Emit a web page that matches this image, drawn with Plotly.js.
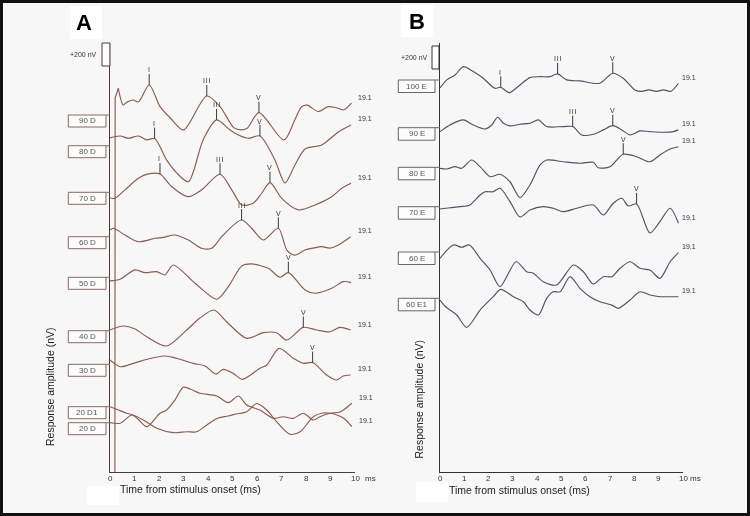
<!DOCTYPE html>
<html>
<head>
<meta charset="utf-8">
<script src="https://cdn.plot.ly/plotly-3.0.1.min.js"></script>
<style>
  html, body { margin: 0; padding: 0; background: #f7f7f8; }
  #chart { width: 750px; height: 516px; }
  /* keep the tiny roman numerals neutral grey */
  #chart .annotation, #chart .annotation text { filter: grayscale(1); }
</style>
</head>
<body>
<div id="chart"></div>
<script>
// ABR waveforms: time (ms) and amplitude (nV, relative to each trace's own baseline)

// ---------- Panel A ----------
const t_90D = [0.34,0.54,0.7,0.95,1.16,1.6,2.05,2.5,3.0,3.95,4.5,5.05,5.35,5.6,6.08,7.1,7.55,7.82,8.05,8.5,8.9,9.2,9.55,9.85];
const v_90D = [232,87,113,130,113,261,70,-35,-130,165,70,-110,-130,-115,20,-218,-40,72,85,30,72,65,45,102];
// stimulus artifact rising from the floor of the panel into the 90 D sweep
const t_art = [0.2,0.21,0.34];
const v_art = [-3106,150,232];

const t_80D = [0,0.41,0.75,1.16,1.5,1.82,2.31,2.72,3.2,3.8,4.35,4.9,5.24,5.64,6.12,6.73,7.14,7.55,7.96,8.64,9.32,9.84];
const v_80D = [0,17,-3,17,-17,-5,-191,-304,-380,-17,157,70,26,-3,17,-191,-391,-235,-96,-61,52,113];

const t_70D = [0,0.2,0.61,1.16,1.56,2.04,2.52,3.2,3.74,4.49,4.97,5.38,5.85,6.19,6.53,7.01,7.69,8.37,9.05,9.46,9.84];
const v_70D = [0,-3,70,171,209,209,98,11,70,206,70,-61,-46,41,133,-3,-104,-61,11,84,128];

const t_60D = [0,0.13,0.61,1.16,1.84,2.18,2.65,3.2,3.74,4.15,4.56,5.37,5.78,6.26,6.87,7.22,7.55,7.96,8.29,8.64,8.98,9.32,9.82];
const v_60D = [0,15,-43,-102,-72,-64,-43,-87,-159,-159,-58,87,15,-87,15,-174,-218,-174,-157,-145,-157,-130,-58];

const t_50D = [0,0.41,1.02,1.43,1.9,2.24,2.58,3.47,4.36,4.83,5.38,5.78,6.46,6.94,7.28,7.96,8.37,9.05,9.52,9.84];
const v_50D = [0,15,96,72,81,52,139,-20,-159,-50,130,148,110,32,72,-78,-107,-64,-6,-15];

const t_40D = [0,0.54,1.02,1.5,2.31,3.13,3.67,4.24,4.76,5.58,6.26,6.8,7.21,7.89,8.44,8.98,9.39,9.82];
const v_40D = [0,35,9,-58,-139,0,104,174,72,-72,-23,-23,-87,23,0,-15,23,0];

const t_30D = [0,0.41,0.95,1.63,2.18,2.58,3.4,3.88,4.33,4.62,5.03,5.4,6.12,6.4,6.9,7.48,7.89,8.27,8.84,9.25,9.52,9.82];
const v_30D = [0,-58,-29,13,35,23,-29,-52,-122,-81,-116,-168,-72,-43,102,15,-29,-22,-130,-174,-139,-130];

const t_20D1 = [0,0.34,0.68,0.89,1.36,1.91,2.58,3.13,3.54,3.95,4.41,4.82,5.14,5.58,5.99,6.4,6.8,7.35,7.76,8.3,8.69,8.98,9.52,9.87];
const v_20D1 = [0,-29,-57,-68,-116,-188,-226,-218,-218,-159,-98,-81,-64,-43,28,-29,-130,-240,-218,-87,-55,-57,-98,-174];

const t_20D = [0,0.41,0.89,1.14,1.5,2.04,2.31,2.65,2.99,3.27,3.67,4.36,4.83,5.24,5.58,6.12,6.67,7.07,7.48,7.89,8.3,8.57,8.98,9.39,9.87];
const v_20D = [0,-5,67,32,-35,82,110,197,308,293,256,232,174,232,154,110,38,52,38,82,23,52,82,93,169];

const namesA = ['90 D','80 D','70 D','60 D','50 D','40 D','30 D','20 D1','20 D'];
const timesA = [t_90D,t_80D,t_70D,t_60D,t_50D,t_40D,t_30D,t_20D1,t_20D];
const ampsA  = [v_90D,v_80D,v_70D,v_60D,v_50D,v_40D,v_30D,v_20D1,v_20D];
const peaksA = [
  [['I',1.6],['III',3.95],['V',6.08]],
  [['I',1.82],['III',4.35],['V',6.12]],
  [['I',2.04],['III',4.49],['V',6.53]],
  [['III',5.37],['V',6.87]],
  [['V',7.28]],
  [['V',7.89]],
  [['V',8.27]],
  [],
  []
];
const sweepsA = ['19.1','19.1','19.1','19.1','19.1','19.1','19.1','19.1','19.1'];

// ---------- Panel B ----------
const t_100E = [0,0.28,0.62,0.96,1.37,1.78,2.26,2.5,2.85,3.29,3.7,4.12,4.53,4.84,5.21,5.76,6.58,7.11,7.54,8.02,8.3,8.6,8.9,9.2,9.5,9.81];
const v_100E = [0,70,113,185,142,84,-3,6,-41,26,90,98,98,122,70,61,41,128,84,-17,-30,-17,-30,-17,-30,41];

const t_90E = [0,0.41,0.96,1.37,1.85,2.13,2.37,2.61,2.88,3.29,3.7,4.05,4.39,5.07,5.46,5.83,6.31,6.72,7.11,7.48,7.82,8.23,8.64,9.19,9.6,9.81];
const v_90E = [0,58,102,58,23,58,125,73,50,64,73,102,44,44,44,-29,-23,15,52,15,-29,6,0,-5,0,15];

const t_80E = [0,0.28,0.62,0.89,1.3,1.65,2.06,2.47,2.88,3.29,3.7,4.12,4.39,5.07,5.76,6.31,6.51,7.0,7.54,8.09,8.64,9.05,9.47,9.81];
const v_80E = [0,-6,14,0,72,14,-73,-52,-117,-254,-145,29,72,57,44,52,5,14,122,101,57,116,168,188];

const t_70E = [0,0.41,0.82,1.23,1.65,1.85,2.19,2.47,2.88,3.29,3.7,4.25,4.66,5.07,5.63,6.31,6.72,7.13,7.48,7.75,8.09,8.64,9.05,9.47,9.81];
const v_70E = [0,11,20,35,122,150,150,180,64,-70,-9,20,6,-23,6,35,-52,50,93,26,44,-209,-110,6,-124];

const t_60E = [0,0.55,0.89,1.21,1.65,2.06,2.47,3.13,3.57,3.84,4.25,4.8,5.49,5.9,6.31,6.72,7.07,7.41,7.82,8.23,8.64,9.05,9.47,9.81];
const v_60E = [0,116,96,116,0,-102,-247,-30,-117,-130,-204,-232,-58,-117,-224,-160,-160,-87,-30,-87,-102,-174,-30,49];

const t_60E1 = [0,0.2,0.41,0.69,1.1,1.65,2.19,2.5,3.02,3.43,3.7,4.05,4.39,4.66,4.94,5.35,5.76,6.17,6.58,7.07,7.34,7.82,8.23,8.64,9.05,9.47,9.81];
const v_60E1 = [0,-52,-87,-130,-238,-87,29,93,29,-15,-87,-130,15,72,72,203,102,29,-15,-44,-72,0,72,44,29,29,29];

const namesB = ['100 E','90 E','80 E','70 E','60 E','60 E1'];
const timesB = [t_100E,t_90E,t_80E,t_70E,t_60E,t_60E1];
const ampsB  = [v_100E,v_90E,v_80E,v_70E,v_60E,v_60E1];
const peaksB = [
  [['I',2.5],['III',4.84],['V',7.11]],
  [['III',5.46],['V',7.11]],
  [['V',7.54]],
  [['V',8.09]],
  [],
  []
];
const sweepsB = ['19.1','19.1','19.1','19.1','19.1','19.1'];

const tickMs = [0,1,2,3,4,5,6,7,8,9,10];
const CAL_NV = 200;

// ---------- Layout geometry (pixels of the 750 x 516 page) ----------
const W = 750, H = 516;
const Y_SPAN_NV = 3732;                 // amplitude span shown on each panel
const plotTop = 43, plotBottom = 472;
const baseA = [3106, 2906, 2384, 2105, 1662, 1235, 974, 568, 429];   // stacking offsets (nV)
const baseB = [3341, 2961, 2642, 2288, 1859, 1496];
const boxTopA = [115, 145.7, 192.3, 236.7, 277.3, 330.7, 364.3, 406.7, 422.7];
const boxTopB = [80, 127.7, 167.3, 206.7, 252, 298.3];

const px = x => x / W;
const py = y => 1 - y / H;
const yDom = [py(plotBottom), py(plotTop)];
const nvToPaper = v => yDom[0] + (v / Y_SPAN_NV) * (yDom[1] - yDom[0]);

const colA = '#8d5b4a', colB = '#4d5563';
const FONT = 'Liberation Sans, Arial, sans-serif';

const traces = [];
const annotations = [];
const shapes = [];

function addPanel(times, amps, bases, peaks, sweeps, xa, ya, color, endShift) {
  times.forEach((t, i) => {
    const y = amps[i].map(a => a + bases[i]);
    traces.push({
      x: t, y: y, xaxis: xa, yaxis: ya, mode: 'lines', hoverinfo: 'skip',
      line: { color: color, width: 1.15, shape: 'spline', smoothing: 0.8 }
    });
    // wave markers I / III / V (spaced so the thin strokes stay apart)
    peaks[i].forEach(([lab, ms]) => {
      const k = t.indexOf(ms);
      annotations.push({
        xref: xa, yref: ya, x: ms, y: y[k],
        text: '<span style="letter-spacing:0.8px">' + lab + '</span>',
        showarrow: true, arrowhead: 0, arrowwidth: 1, arrowcolor: '#3a3a3a',
        ax: 0, ay: -15, standoff: 0, borderpad: 0,
        font: { family: FONT, size: 7, color: '#333' }
      });
    });
    // sweep count at the end of each trace
    const n = t.length - 1;
    annotations.push({
      xref: xa, yref: ya, x: t[n], y: y[n], text: sweeps[i], showarrow: false,
      xanchor: 'left', yanchor: 'middle', xshift: endShift, yshift: 6,
      font: { family: FONT, size: 7, color: '#333' }
    });
  });
  // time tick labels along the bottom axis
  tickMs.forEach(v => {
    annotations.push({
      xref: xa, yref: 'paper', x: v, y: py(478.5), text: String(v), showarrow: false,
      xanchor: 'center', yanchor: 'middle',
      font: { family: FONT, size: 8, color: '#333' }
    });
  });
}

addPanel(timesA, ampsA, baseA, peaksA, sweepsA, 'x', 'y', colA, 5);
addPanel(timesB, ampsB, baseB, peaksB, sweepsB, 'x2', 'y2', colB, 2);

// stimulus artifact of the loudest sweep
traces.push({
  x: t_art, y: v_art.map(a => a + baseA[0]), xaxis: 'x', yaxis: 'y',
  mode: 'lines', hoverinfo: 'skip', line: { color: colA, width: 1.15 }
});

// label boxes
function addBoxes(names, tops, x0, x1, axisX, h, borderCol) {
  names.forEach((nm, i) => {
    shapes.push({ type: 'rect', xref: 'paper', yref: 'paper',
      x0: px(x0), x1: px(x1), y0: py(tops[i] + h), y1: py(tops[i]),
      line: { color: borderCol, width: 1 }, fillcolor: 'rgba(255,255,255,0.6)' });
    shapes.push({ type: 'line', xref: 'paper', yref: 'paper',
      x0: px(x1), x1: px(axisX), y0: py(tops[i]), y1: py(tops[i]),
      line: { color: borderCol, width: 1 } });
    annotations.push({ xref: 'paper', yref: 'paper', x: px((x0 + x1) / 2), y: py(tops[i] + h / 2),
      text: nm, showarrow: false, xanchor: 'center', yanchor: 'middle',
      font: { family: FONT, size: 8, color: '#555' } });
  });
}
addBoxes(namesA, boxTopA, 68.3, 106, 110, 12, '#8a6a60');
addBoxes(namesB, boxTopB, 398.3, 435, 440, 12.5, '#666');

// +200 nV calibration bars
function addCal(xLeft, xRight, cx, topNv, borderCol) {
  shapes.push({ type: 'rect', xref: 'paper', yref: 'paper',
    x0: px(xLeft), x1: px(xRight), y0: nvToPaper(topNv - CAL_NV), y1: nvToPaper(topNv),
    line: { color: borderCol, width: 1 }, fillcolor: 'rgba(255,255,255,0.8)' });
  annotations.push({ xref: 'paper', yref: 'paper', x: px(cx), y: nvToPaper(topNv - CAL_NV / 2),
    text: '+' + CAL_NV + ' nV', showarrow: false, xanchor: 'center', yanchor: 'middle',
    font: { family: FONT, size: 7, color: '#333' } });
}
addCal(102, 110, 83, Y_SPAN_NV, '#4a3a35');
addCal(432, 439, 414, Y_SPAN_NV - 26, '#333');

// white patches behind panel letters and under the axes
[[70, 6, 102, 39], [401, 5, 433, 37], [87, 486, 119, 505], [416, 482, 448, 502]].forEach(r => {
  shapes.push({ type: 'rect', xref: 'paper', yref: 'paper', layer: 'below',
    x0: px(r[0]), x1: px(r[2]), y0: py(r[3]), y1: py(r[1]),
    line: { width: 0 }, fillcolor: '#ffffff' });
});

// outer frame
shapes.push({ type: 'rect', xref: 'paper', yref: 'paper',
  x0: px(1.5), x1: px(W - 1.5), y0: py(H - 1.5), y1: py(1.5),
  line: { color: '#111', width: 3 } });

function txt(x, y, s, size, opts) {
  annotations.push(Object.assign({ xref: 'paper', yref: 'paper', x: px(x), y: py(y), text: s,
    showarrow: false, xanchor: 'center', yanchor: 'middle',
    font: { family: FONT, size: size, color: '#222' } }, opts || {}));
}
txt(84, 23, '<b>A</b>', 22, { font: { family: FONT, size: 22, color: '#000' } });
txt(417, 22, '<b>B</b>', 22, { font: { family: FONT, size: 22, color: '#000' } });
txt(370, 478.5, 'ms', 8, { font: { family: FONT, size: 8, color: '#333' } });
txt(695, 478.5, 'ms', 8, { font: { family: FONT, size: 8, color: '#333' } });
txt(190, 489, 'Time from stimulus onset (ms)', 10.5);
txt(519, 489.5, 'Time from stimulus onset (ms)', 10.5);
txt(49.5, 387.5, 'Response amplitude (nV)', 10.5, { textangle: -90 });
txt(418.5, 400, 'Response amplitude (nV)', 10.5, { textangle: -90 });

const xBase = {
  range: [0, 10], showgrid: false, zeroline: false, showline: true, linewidth: 1,
  ticks: '', showticklabels: false, fixedrange: true
};
const yBase = {
  range: [0, Y_SPAN_NV], domain: yDom, showgrid: false, zeroline: false,
  showline: true, linewidth: 1, ticks: '', showticklabels: false, fixedrange: true
};

const layout = {
  width: W, height: H,
  margin: { l: 0, r: 0, t: 0, b: 0, pad: 0 },
  paper_bgcolor: '#f7f7f8', plot_bgcolor: 'rgba(0,0,0,0)',
  showlegend: false,
  xaxis: Object.assign({}, xBase, { domain: [px(110), px(355)], anchor: 'y', linecolor: '#4a3a35' }),
  yaxis: Object.assign({}, yBase, { anchor: 'x', linecolor: '#4a3a35' }),
  xaxis2: Object.assign({}, xBase, { domain: [px(440), px(683)], anchor: 'y2', linecolor: '#333' }),
  yaxis2: Object.assign({}, yBase, { anchor: 'x2', linecolor: '#333' }),
  shapes: shapes,
  annotations: annotations
};

Plotly.newPlot('chart', traces, layout, { displayModeBar: false, staticPlot: true });
</script>
</body>
</html>
